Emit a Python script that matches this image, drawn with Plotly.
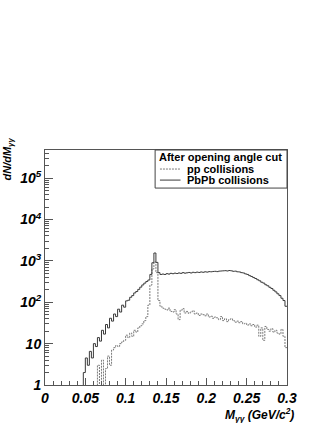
"""
Di-photon invariant mass after the opening angle cut, pp vs PbPb.
Writes out.html.
"""

import numpy as np
import plotly.graph_objects as go

# histogram binning (GeV/c^2)
BIN_START = 0.045
BIN_WIDTH = 0.0025

# counts per bin, 0.045 -> 0.300 (values below 1 fall off the log axis)
PBPB_COUNTS = [
    0.1, 2.0, 4.5, 3.0, 6.5, 4.5, 10, 8.5, 14, 11.5,
    21, 17, 29, 24, 41, 35, 52, 45, 68, 58,
    85, 76, 108, 112, 132, 145, 168, 182, 205, 232,
    262, 290, 318, 345, 470, 900, 1550, 920, 520, 470,
    480, 470, 490, 480, 500, 490, 505, 495, 510, 500,
    520, 505, 515, 525, 510, 530, 520, 535, 525, 540,
    530, 545, 535, 550, 545, 555, 560, 550, 565, 570,
    575, 580, 570, 585, 575, 560, 565, 545, 540, 520,
    510, 485, 470, 440, 420, 395, 375, 350, 330, 305,
    290, 265, 250, 230, 215, 195, 178, 160, 145, 125,
    110, 80,
]
PP_COUNTS = [
    0.1, 0.1, 0.1, 0.1, 0.1, 0.1, 0.1, 0.1, 3, 0.1,
    4, 0.1, 2.5, 5, 3, 7, 8, 9, 8.5, 10,
    11, 12, 16, 14, 18, 15, 21, 19, 24, 27,
    30, 36, 45, 85, 260, 640, 940, 520, 110, 80,
    72, 68, 65, 72, 60, 58, 66, 52, 38, 64,
    70, 55, 60, 54, 58, 62, 52, 55, 48, 52,
    50, 47, 52, 44, 46, 41, 44, 42, 38, 45,
    36, 40, 34, 38, 40, 36, 33, 35, 32, 34,
    30, 31, 28, 30, 27, 29, 25, 28, 15, 24,
    12, 26, 22, 20, 23, 19, 21, 18, 17, 22,
    15, 8,
]

Y_TICKS = [1, 10, 100, 1e3, 1e4, 1e5]
Y_TICK_TEXT = ["1", "10", "10<sup>2</sup>", "10<sup>3</sup>", "10<sup>4</sup>", "10<sup>5</sup>"]

LEGEND_TITLE = "After opening angle cut"
SERIES = [
    ("pp collisions", PP_COUNTS, dict(color="#7a7a7a", width=1, dash="2px,1px")),
    ("PbPb collisions", PBPB_COUNTS, dict(color="#3a3a3a", width=1)),
]

FONT = "Liberation Sans"


def step(counts):
    # lower edges plus the closing edge, for an 'hv' step line
    edges = np.round(BIN_START + BIN_WIDTH * np.arange(len(counts) + 1), 5)
    return edges, list(counts) + [counts[-1]]


def main() -> None:
    fig = go.Figure()
    for name, counts, line in SERIES:
        x, y = step(counts)
        fig.add_trace(go.Scatter(
            x=x, y=y, mode="lines", line_shape="hv", name=name, line=line,
        ))

    tickfont = dict(family=FONT, size=14, weight="bold", style="italic", color="black")
    legfont = dict(family=FONT, size=11, weight="bold", color="black")
    minor_y = [m * 10 ** k for k in range(0, 6) for m in range(2, 10)]

    # ROOT-style legend box drawn by hand (paper coords)
    shapes = [dict(type="rect", xref="paper", yref="paper",
                   x0=0.455, x1=1.0, y0=0.838, y1=1.0,
                   line=dict(color="#444", width=1), fillcolor="white")]
    annotations = [dict(text=LEGEND_TITLE, xref="paper", yref="paper",
                        x=0.463, y=0.970, xanchor="left", yanchor="middle",
                        showarrow=False, font=legfont)]
    for row_y, (name, _, line) in zip([0.919, 0.872], SERIES):
        shapes.append(dict(type="line", xref="paper", yref="paper",
                           x0=0.475, x1=0.56, y0=row_y, y1=row_y, line=line))
        annotations.append(dict(text=name, xref="paper", yref="paper",
                                x=0.579, y=row_y, xanchor="left", yanchor="middle",
                                showarrow=False, font=legfont))

    annotations += [
        dict(
            text="M<sub>γγ</sub> (GeV/c<sup>2</sup>)",
            xref="paper", yref="paper", x=1, y=0,
            xanchor="right", yanchor="top", xshift=9, yshift=-19,
            showarrow=False,
            font=dict(family=FONT, size=12, weight="bold", style="italic", color="black"),
        ),
        dict(
            text="dN/dM<sub>γγ</sub>",
            xref="paper", yref="paper", x=0, y=1,
            xanchor="right", yanchor="top", xshift=-29, yshift=14,
            textangle=-90, showarrow=False,
            font=dict(family=FONT, size=11, weight="bold", style="italic", color="black"),
        ),
    ]

    fig.update_layout(
        width=327,
        height=423,
        margin=dict(l=45, r=40, t=150, b=38),
        paper_bgcolor="white",
        plot_bgcolor="white",
        showlegend=False,
        xaxis=dict(
            range=[0, 0.3], dtick=0.05, tick0=0,
            ticks="inside", ticklen=7, tickcolor="#555",
            minor=dict(dtick=0.01, ticks="inside", ticklen=4, tickcolor="#555"),
            showline=True, linecolor="#555", mirror=True,
            showgrid=False, zeroline=False, automargin=False,
            tickfont=tickfont,
        ),
        yaxis=dict(
            type="log", range=[0, 5.68],
            tickvals=Y_TICKS, ticktext=Y_TICK_TEXT,
            ticks="inside", ticklen=8, tickcolor="#555",
            minor=dict(tickvals=minor_y, ticks="inside", ticklen=4, tickcolor="#555"),
            showline=True, linecolor="#555", mirror=True,
            showgrid=False, zeroline=False, automargin=False,
            tickfont=tickfont,
        ),
        shapes=shapes,
        annotations=annotations,
    )

    # the page's default body margin would shift the figure by 8px
    fig.write_html("out.html", config={"displayModeBar": False},
                   post_script="document.body.style.margin='0';")


if __name__ == "__main__":
    main()
